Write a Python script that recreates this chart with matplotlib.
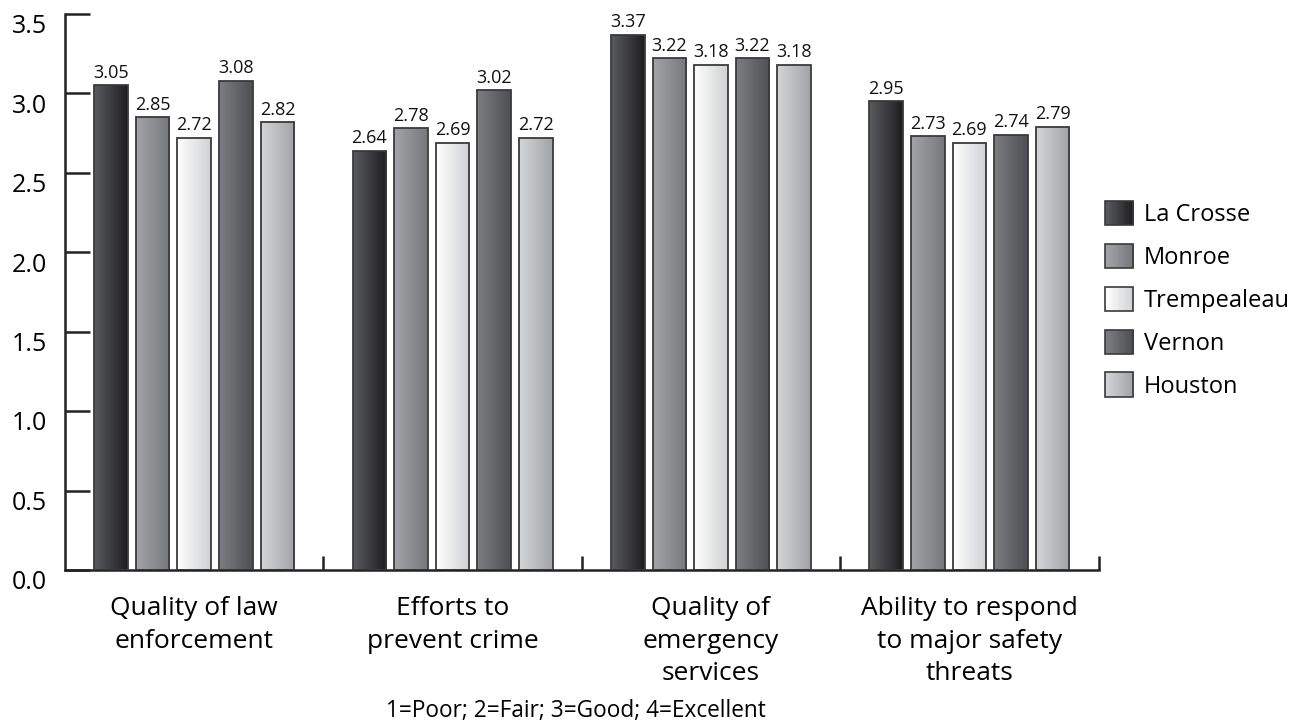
import numpy as np
import matplotlib
matplotlib.use("Agg")
import matplotlib.pyplot as plt
from matplotlib.patches import Rectangle
from matplotlib.legend_handler import HandlerBase
from matplotlib.colors import LinearSegmentedColormap
import matplotlib.transforms as mtransforms

plt.rcParams['font.family'] = ['Open Sans', 'DejaVu Sans']

categories = ["Quality of law\nenforcement", "Efforts to\nprevent crime",
              "Quality of\nemergency\nservices", "Ability to respond\nto major safety\nthreats"]
series = ["La Crosse", "Monroe", "Trempealeau", "Vernon", "Houston"]
la_crosse = [3.05, 2.64, 3.37, 2.95]
monroe = [2.85, 2.78, 3.22, 2.73]
trempealeau = [2.72, 2.69, 3.18, 2.69]
vernon = [3.08, 3.02, 3.22, 2.74]
houston = [2.82, 2.72, 3.18, 2.79]
values = [la_crosse, monroe, trempealeau, vernon, houston]
yticks = [0.0, 0.5, 1.0, 1.5, 2.0, 2.5, 3.0, 3.5]
note = "1=Poor; 2=Fair; 3=Good; 4=Excellent"

gradients = [("#5a5b5e", "#1e1e20"), ("#a3a4a7", "#77787b"), ("#ffffff", "#d0d1d3"),
             ("#7d7e81", "#4e4f52"), ("#d4d5d7", "#a2a3a6")]
edge = "#3a3a3a"

fig = plt.figure(figsize=(13, 7.26), dpi=100)
ax = fig.add_axes([0.05, 0.2149, 0.795, 0.7658])

x = np.arange(len(categories))
pitch = 0.161
width = 0.13
offsets = (np.arange(len(series)) - 2) * pitch

for i, (name, vals) in enumerate(zip(series, values)):
    bars = ax.bar(x + offsets[i], vals, width, facecolor='none', edgecolor=edge,
                  linewidth=1.3, zorder=3)
    cmap = LinearSegmentedColormap.from_list(name, gradients[i])
    grad = np.linspace(0, 1, 64).reshape(1, -1)
    for b, v in zip(bars, vals):
        x0, y0 = b.get_x(), b.get_y()
        w, h = b.get_width(), b.get_height()
        im = ax.imshow(grad, cmap=cmap, aspect='auto', extent=(x0, x0 + w, y0, y0 + h),
                       zorder=2, interpolation='bilinear')
        im.set_clip_path(b)
        ax.annotate(f"{v:.2f}", (x0 + w / 2, v), xytext=(0, 2.5), textcoords='offset points',
                    ha='center', va='bottom', fontsize=13, color='#111111')

ax.set_xlim(-0.5, 3.5)
ax.set_ylim(0, 3.5)
ax.set_yticks(yticks)
ax.set_yticklabels([f"{t:.1f}" for t in yticks], fontsize=18)
ax.set_xticks(x)
ax.set_xticklabels(categories, fontsize=19, linespacing=1.38)
ax.set_xticks([0.5, 1.5, 2.5, 3.5], minor=True)
ax.tick_params(axis='x', which='major', length=0, pad=19)
ax.tick_params(axis='x', which='minor', direction='in', length=10, width=1.8, color='#222222')
ax.tick_params(axis='y', direction='in', length=18, width=1.8, color='#222222', pad=13)
off = mtransforms.ScaledTranslation(0, -7 / 72, fig.dpi_scale_trans)
for lab in ax.get_yticklabels():
    lab.set_transform(lab.get_transform() + off)
for s in ['top', 'right']:
    ax.spines[s].set_visible(False)
for s in ['left', 'bottom']:
    ax.spines[s].set_linewidth(1.8)
    ax.spines[s].set_color('#222222')


class GradHandler(HandlerBase):
    def __init__(self, colors):
        super().__init__()
        self.colors = colors

    def create_artists(self, legend, orig_handle, xdescent, ydescent, width, height, fontsize, trans):
        c0, c1 = self.colors
        cmap = LinearSegmentedColormap.from_list("h", [c0, c1])
        n = 24
        arts = []
        for k in range(n):
            r = Rectangle((-xdescent + width * k / n, -ydescent), width / n + 0.3, height,
                          facecolor=cmap(k / (n - 1)), edgecolor='none', transform=trans)
            arts.append(r)
        arts.append(Rectangle((-xdescent, -ydescent), width, height, facecolor='none',
                              edgecolor=edge, linewidth=1.2, transform=trans))
        return arts


handles = [Rectangle((0, 0), 1, 1) for _ in series]
hmap = {h: GradHandler(g) for h, g in zip(handles, gradients)}
fig.legend(handles, series, handler_map=hmap, loc='center left', bbox_to_anchor=(0.85, 0.587),
           frameon=False, fontsize=17, handlelength=1.2, handleheight=1.2,
           labelspacing=0.71, handletextpad=0.45, borderpad=0, borderaxespad=0)

fig.text(0.443, 0.021, note, ha='center', va='center', fontsize=16.3)

fig.savefig("out.png", dpi=100)
